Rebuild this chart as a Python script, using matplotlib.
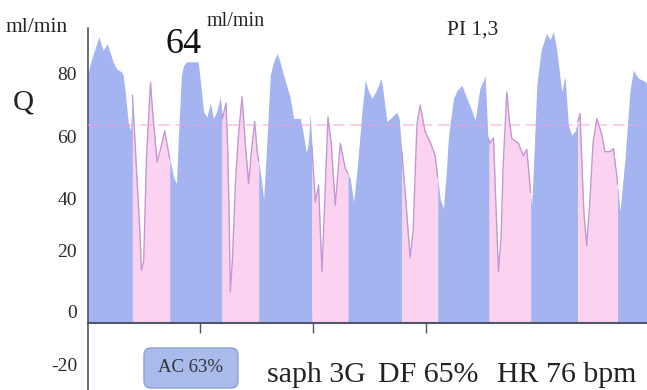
import numpy as np
import matplotlib
matplotlib.use("Agg")
import matplotlib.pyplot as plt
from matplotlib.patches import FancyBboxPatch
from matplotlib.transforms import IdentityTransform

plt.rcParams['font.family'] = ['Liberation Serif', 'DejaVu Serif']

# ---- data: flow waveform (time in s, flow in ml/min) ----
time_s = [0.000, 0.027, 0.062, 0.100, 0.139, 0.174, 0.227, 0.257, 0.301, 0.316,
          0.336, 0.360, 0.381, 0.398, 0.416, 0.436, 0.463, 0.478, 0.498, 0.522,
          0.558, 0.584, 0.617, 0.646, 0.684, 0.708, 0.728, 0.764, 0.788, 0.805,
          0.832, 0.850, 0.876, 0.980, 1.000, 1.029, 1.059, 1.088, 1.115, 1.142,
          1.177, 1.195, 1.227, 1.243, 1.257, 1.265, 1.283, 1.310, 1.336, 1.369,
          1.398, 1.427, 1.451, 1.481, 1.504, 1.531, 1.560, 1.584, 1.619, 1.646,
          1.679, 1.699, 1.737, 1.761, 1.796, 1.826, 1.885, 1.914, 1.938, 1.956,
          1.973, 1.991, 2.018, 2.047, 2.062, 2.077, 2.097, 2.130, 2.159, 2.195,
          2.217, 2.239, 2.283, 2.327, 2.357, 2.389, 2.431, 2.460, 2.487, 2.519,
          2.558, 2.602, 2.628, 2.652, 2.681, 2.741, 2.761, 2.785, 2.814, 2.858,
          2.885, 2.918, 2.947, 2.991, 3.035, 3.080, 3.124, 3.153, 3.177, 3.197,
          3.242, 3.274, 3.316, 3.354, 3.389, 3.434, 3.460, 3.478, 3.504, 3.522,
          3.546, 3.566, 3.596, 3.626, 3.640, 3.664, 3.681, 3.714, 3.735, 3.758,
          3.817, 3.861, 3.891, 3.912, 3.935, 3.956, 3.980, 4.018, 4.044, 4.068,
          4.097, 4.127, 4.157, 4.201, 4.230, 4.259, 4.289, 4.319, 4.363, 4.383,
          4.398, 4.422, 4.451, 4.478, 4.511, 4.555, 4.584, 4.628, 4.658, 4.688,
          4.717, 4.761, 4.805, 4.835, 4.879, 4.938, 4.956]
flow = [80.0, 84.0, 88.0, 92.4, 88.0, 90.2, 84.3, 82.1, 81.0, 80.0,
        74.0, 65.0, 62.0, 73.5, 62.0, 48.0, 30.0, 17.0, 20.0, 53.0,
        77.6, 65.0, 52.0, 56.0, 62.0, 57.0, 53.0, 47.0, 45.0, 60.0,
        80.0, 83.0, 84.3, 84.3, 78.0, 68.0, 66.5, 71.0, 66.0, 68.0,
        73.0, 66.0, 71.0, 55.0, 30.0, 10.0, 20.0, 45.0, 60.0, 73.0,
        58.0, 45.0, 55.0, 65.0, 55.0, 48.8, 40.0, 55.0, 80.0, 84.0,
        87.0, 85.0, 80.0, 77.0, 72.6, 66.0, 66.0, 60.6, 55.0, 58.0,
        67.6, 55.0, 39.0, 44.5, 30.0, 16.5, 35.0, 66.5, 58.0, 38.0,
        48.0, 58.0, 50.0, 46.7, 39.0, 50.0, 68.0, 78.4, 75.0, 72.5,
        75.0, 79.0, 72.0, 65.0, 66.0, 68.0, 66.0, 55.0, 42.0, 21.0,
        30.0, 64.0, 70.3, 61.7, 58.5, 54.0, 40.0, 37.0, 48.0, 60.0,
        72.5, 75.0, 76.8, 73.0, 70.0, 65.5, 72.0, 76.0, 78.0, 80.0,
        60.6, 58.0, 59.7, 30.0, 16.5, 28.0, 50.0, 74.6, 66.0, 59.6,
        58.0, 54.0, 56.0, 47.7, 38.0, 55.0, 76.8, 88.0, 91.0, 93.4,
        91.5, 94.0, 88.0, 74.6, 79.5, 63.9, 60.6, 62.0, 67.6, 48.0,
        35.0, 25.0, 40.0, 58.0, 66.0, 61.0, 55.3, 55.3, 56.3, 47.7,
        36.0, 53.0, 75.0, 81.6, 79.0, 78.0, 77.0]

systole_start = [0.000, 0.728, 1.516, 2.307, 3.102, 3.925, 4.695]
diastole_start = [0.398, 1.192, 1.988, 2.785, 3.558, 4.342]
mean_flow = 64
y_ticks = [80, 60, 40, 20, 0, -20]
x_ticks = [1, 2, 3]

BLUE = "#a3b4f0"
PINK = "#fbd3f0"
LINE = "#c298d2"
AXC = "#50556a"

t = np.array(time_s)
q = np.array(flow)
t_end = t[-1]

fig = plt.figure(figsize=(6.47, 3.90), dpi=100)
ax = fig.add_axes([87.5 / 647, 0, 1 - 87.5 / 647, 1 - 28 / 390])
ax.set_xlim(0, t_end)
ax.set_ylim(-21.6, 95.2)
ax.patch.set_visible(False)

# phase segments
bounds = sorted([(s, 'sys') for s in systole_start] + [(d, 'dia') for d in diastole_start])
for i, (a, kind) in enumerate(bounds):
    b = bounds[i + 1][0] if i + 1 < len(bounds) else t_end
    inner = t[(t > a) & (t < b)]
    ts = np.concatenate([[a], inner, [b]])
    vs = np.interp(ts, t, q)
    ax.fill_between(ts, 0, vs, color=BLUE if kind == 'sys' else PINK, lw=0, zorder=2)
    if kind == 'dia':
        ax.plot(ts, vs, color=LINE, lw=1.0, zorder=3)

# mean line
ax.axhline(mean_flow, color="#f2a3d2", lw=1.4, alpha=0.5, ls=(0, (6, 3)), zorder=4)

# axes styling
for s in ['top', 'right']:
    ax.spines[s].set_visible(False)
ax.spines['left'].set_color(AXC)
ax.spines['left'].set_linewidth(1.2)
ax.spines['bottom'].set_position(('data', 0))
ax.spines['bottom'].set_color(AXC)
ax.spines['bottom'].set_linewidth(1.5)
ax.spines['bottom'].set_zorder(5)
ax.set_xticks(x_ticks)
ax.set_xticklabels([])
ax.tick_params(axis='x', direction='inout', length=14, width=1.0, color=AXC)
ax.set_yticks([v for v in y_ticks if v > 0])
ax.set_yticklabels([])
ax.tick_params(axis='y', direction='in', length=7, width=1.5, color=AXC)

label_dy = [0, -1, -1, 6, 7, 13]
for v, dy in zip(y_ticks, label_dy):
    ax.annotate(str(v), xy=(0, v), xycoords=('axes fraction', 'data'),
                xytext=(-7.5, dy), textcoords='offset points',
                ha='right', va='center', fontsize=14, color='#2a2a2a',
                annotation_clip=False)

def fx(x):
    return x / 647
def fy(y):
    return 1 - y / 390

fig.text(fx(5), fy(32), "ml/min", fontsize=15.5, ha='left', va='baseline', color='#222')
fig.text(fx(13), fy(110), "Q", fontsize=21, ha='left', va='baseline', color='#222')
fig.text(fx(183.5), fy(53), "64", fontsize=26, ha='center', va='baseline', color='#111')
fig.text(fx(207), fy(26), "ml/min", fontsize=14.5, ha='left', va='baseline', color='#222')
fig.text(fx(447), fy(35), "PI 1,3", fontsize=15.5, ha='left', va='baseline', color='#222')

box = FancyBboxPatch((144, 390 - 388), 94, 40, boxstyle="round,pad=0,rounding_size=7",
                     transform=IdentityTransform(), facecolor="#a9bbea",
                     edgecolor="#8ba0d8", lw=1.0)
fig.add_artist(box)
fig.text(fx(191), fy(368), "AC 63%", fontsize=13.5, ha='center', va='center', color='#333')

fig.text(fx(267), fy(382), "saph 3G", fontsize=21.5, ha='left', va='baseline', color='#222')
fig.text(fx(378), fy(382), "DF 65%", fontsize=21.5, ha='left', va='baseline', color='#222')
fig.text(fx(497), fy(382), "HR 76 bpm", fontsize=21.5, ha='left', va='baseline', color='#222')

fig.savefig("out.png", dpi=100)
